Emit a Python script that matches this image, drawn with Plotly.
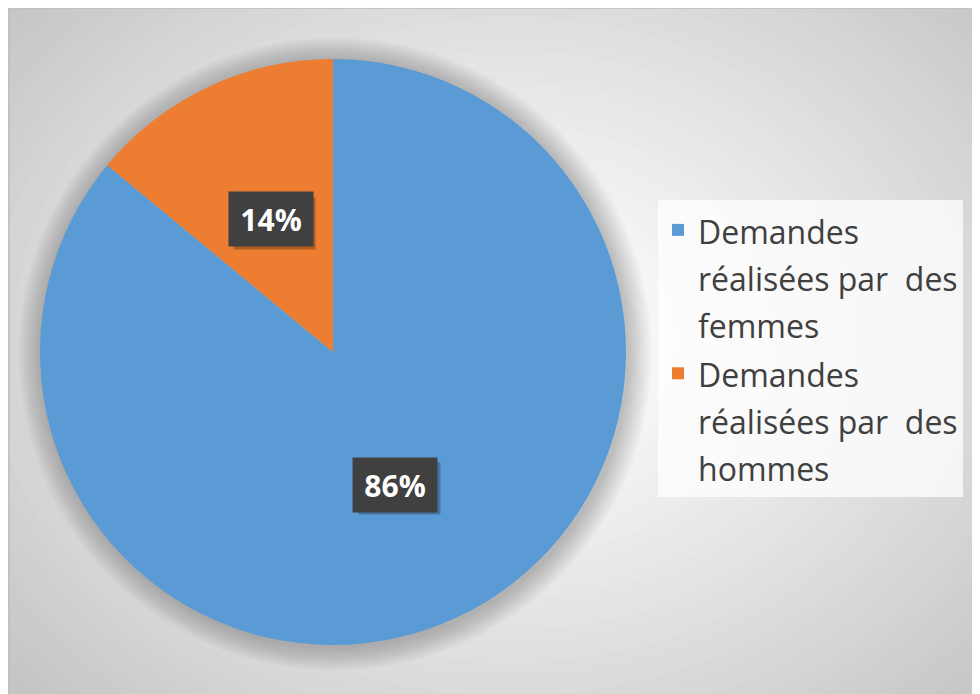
import math
import plotly.graph_objects as go

labels = ["Demandes<br>réalisées par\u00a0 des<br>femmes",
          "Demandes<br>réalisées par\u00a0 des<br>hommes"]
values = [86, 14]
colors = ["#5B9BD5", "#ED7D31"]

# page body has an 8px margin: build the figure for the visible area
OFF = 8
W, H = 980 - OFF, 694 - OFF


def px(x):
    return (x - OFF) / W


def py(y):
    return 1 - (y - OFF) / H


# pie geometry (reference page pixels)
PCX, PCY, PR = 333, 352, 293
dom_x = [px(PCX - PR), px(PCX + PR)]
dom_y = [py(PCY + PR), py(PCY - PR)]

legend_names = [f'<span style="font-size:32px">{l}</span>' for l in labels]

fig = go.Figure(go.Pie(
    labels=legend_names, values=values, sort=False, direction="clockwise", rotation=0,
    marker=dict(colors=colors, line=dict(width=0)),
    textinfo="none", hoverinfo="percent",
    domain=dict(x=dom_x, y=dom_y),
))

shapes = []
# frame background: radial gradient
gcx, gcy = 510, 340
N = 50
amax = 690
for i in range(N, 0, -1):
    t = i / N
    a = amax * t
    b = a * 0.78
    v = int(round(255 - (255 - 194) * t ** 1.25))
    shapes.append(dict(type="circle", xref="paper", yref="paper",
                       xsizemode="pixel", ysizemode="pixel",
                       xanchor=px(gcx), yanchor=py(gcy),
                       x0=-a, x1=a, y0=-b, y1=b,
                       fillcolor=f"rgb({v},{v},{v})", line=dict(width=0), layer="below"))
# soft pie shadow
for k in range(14, 0, -1):
    r = PR + k * 1.7
    shapes.append(dict(type="circle", xref="paper", yref="paper",
                       xsizemode="pixel", ysizemode="pixel",
                       xanchor=px(PCX), yanchor=py(PCY),
                       x0=-r + 2, x1=r + 2, y0=-r - 2, y1=r - 2,
                       fillcolor="rgba(0,0,0,0.014)", line=dict(width=0), layer="below"))
# frame border
shapes.append(dict(type="rect", xref="paper", yref="paper",
                   x0=px(9), x1=1.01, y0=-0.01, y1=1,
                   line=dict(color="#BFBFBF", width=1.5), fillcolor="rgba(0,0,0,0)", layer="below"))

# data labels in dark boxes, positioned from slice mid-angles
annotations = []
BW, BH = 82, 52
total = sum(values)
start = 0.0
for v in values:
    frac = v / total
    mid = (start + frac / 2) * 2 * math.pi
    start += frac
    dx = 0.5 * PR * math.sin(mid)
    dy = 0.5 * PR * math.cos(mid)
    # box shadow
    shapes.append(dict(type="rect", xref="paper", yref="paper",
                       xsizemode="pixel", ysizemode="pixel",
                       xanchor=px(PCX), yanchor=py(PCY),
                       x0=dx - BW / 2 + 4, x1=dx + BW / 2 + 4,
                       y0=dy - BH / 2 - 4, y1=dy + BH / 2 - 4,
                       fillcolor="rgba(0,0,0,0.25)", line=dict(width=0), layer="above"))
    annotations.append(dict(text=f"<b>{round(frac * 100)}%</b>",
                            xref="paper", yref="paper", x=px(PCX), y=py(PCY),
                            xshift=dx, yshift=dy, showarrow=False,
                            width=BW, height=BH, align="center", valign="middle",
                            font=dict(family="Open Sans", size=30, color="white"),
                            bgcolor="#404040"))

fig.update_layout(
    width=W, height=H,
    margin=dict(l=0, r=0, t=0, b=0),
    paper_bgcolor="white",
    shapes=shapes,
    annotations=annotations,
    showlegend=True,
    legend=dict(x=px(658), y=py(200), xanchor="left", yanchor="top",
                bgcolor="rgba(255,255,255,0.75)",
                font=dict(family="Open Sans", size=36, color="#404040"),
                itemwidth=30, traceorder="normal", valign="top"),
)

fig.write_html("out.html")
